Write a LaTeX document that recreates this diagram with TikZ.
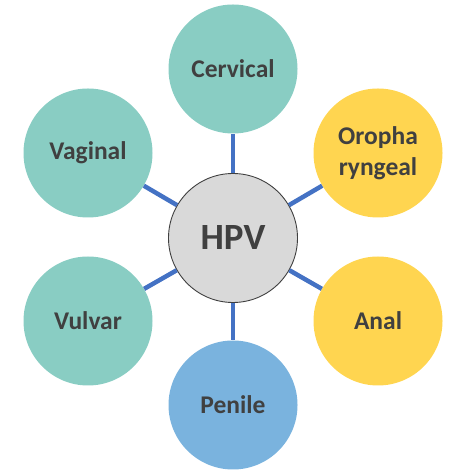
\documentclass[tikz,border=0pt]{standalone}
\usepackage{fontspec}
\setmainfont{Carlito}
\definecolor{teal1}{RGB}{137,205,195}
\definecolor{yel1}{RGB}{255,213,80}
\definecolor{blu1}{RGB}{122,179,222}
\definecolor{gry1}{RGB}{217,217,217}
\definecolor{txt1}{RGB}{64,64,64}
\definecolor{lnk1}{RGB}{68,114,196}
\begin{document}
\begin{tikzpicture}[x=1pt,y=1pt,
  outer/.style={circle,minimum size=129pt,inner sep=0pt,text=txt1,font=\fontsize{25.5}{31}\selectfont\bfseries,align=center},
  hub/.style={circle,minimum size=129pt,inner sep=0pt,fill=gry1,draw=black!75,line width=0.9pt,text=txt1,font=\fontsize{37}{40}\selectfont\bfseries},
  link/.style={draw=lnk1,line width=4.5pt}]
\useasboundingbox (0,0) rectangle (450,470);
\node[hub] (c) at (233,232) {HPV};
\node[outer,fill=teal1] (cer) at (233,401) {Cervical};
\node[outer,fill=yel1] (oro) at (378,317) {Oropha\\ryngeal};
\node[outer,fill=yel1] (ana) at (378,149) {Anal};
\node[outer,fill=blu1] (pen) at (233,65) {Penile};
\node[outer,fill=teal1] (vul) at (88,149) {Vulvar};
\node[outer,fill=teal1] (vag) at (88,317) {Vaginal};
\foreach \n in {cer,oro,ana,pen,vul,vag} \draw[link] (c) -- (\n);
\end{tikzpicture}
\end{document}
